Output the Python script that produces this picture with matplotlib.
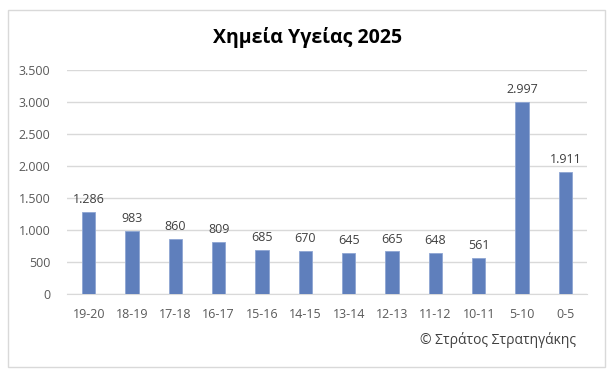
import matplotlib
matplotlib.use("Agg")
import matplotlib.pyplot as plt
from matplotlib.patches import Rectangle
from matplotlib.ticker import FuncFormatter

categories = ["19-20", "18-19", "17-18", "16-17", "15-16", "14-15", "13-14",
              "12-13", "11-12", "10-11", "5-10", "0-5"]
values = [1286, 983, 860, 809, 685, 670, 645, 665, 648, 561, 2997, 1911]
yticks = [0, 500, 1000, 1500, 2000, 2500, 3000, 3500]
title = "Χημεία Υγείας 2025"
credit = "© Στράτος Στρατηγάκης"

def fmt(v):
    return f"{int(v):,}".replace(",", ".")

plt.rcParams['font.family'] = ['Open Sans', 'DejaVu Sans']

fig = plt.figure(figsize=(6.16, 3.76), dpi=100)
fig.patch.set_facecolor("white")
fig.add_artist(Rectangle((8/616, 1 - 367/376), (605-8)/616, (367-10)/376,
                         transform=fig.transFigure, fill=False,
                         edgecolor="#d9d9d9", linewidth=1))

ax = fig.add_axes([67/616, 82/376, (587-67)/616, 224/376])
x = range(len(categories))
bars = ax.bar(x, values, width=0.31, color="#5f7fbc", edgecolor="#8ea6d3", linewidth=0.6, zorder=3)
for xi, v in zip(x, values):
    ax.text(xi, v + 90, fmt(v), ha="center", va="bottom", fontsize=9, color="#404040")

ax.set_xlim(-0.5, len(categories) - 0.5)
ax.set_ylim(0, 3500)
ax.set_yticks(yticks)
ax.yaxis.set_major_formatter(FuncFormatter(lambda v, p: fmt(v)))
ax.set_xticks(list(x))
ax.set_xticklabels(categories)
ax.tick_params(axis="both", length=0, labelsize=9, colors="#595959")
ax.tick_params(axis="x", pad=10)
ax.tick_params(axis="y", pad=12)
ax.grid(axis="y", color="#d9d9d9", linewidth=1, zorder=0)
for s in ["top", "right", "left"]:
    ax.spines[s].set_visible(False)
ax.spines["bottom"].set_color("#d9d9d9")

fig.text(0.5, 1 - 38/376, title, ha="center", va="center", fontsize=14,
         fontweight="bold", color="#000000")
fig.text(576/616, 1 - 340/376, credit, ha="right", va="center", fontsize=10, color="#404040")

fig.savefig("out.png", dpi=100)
